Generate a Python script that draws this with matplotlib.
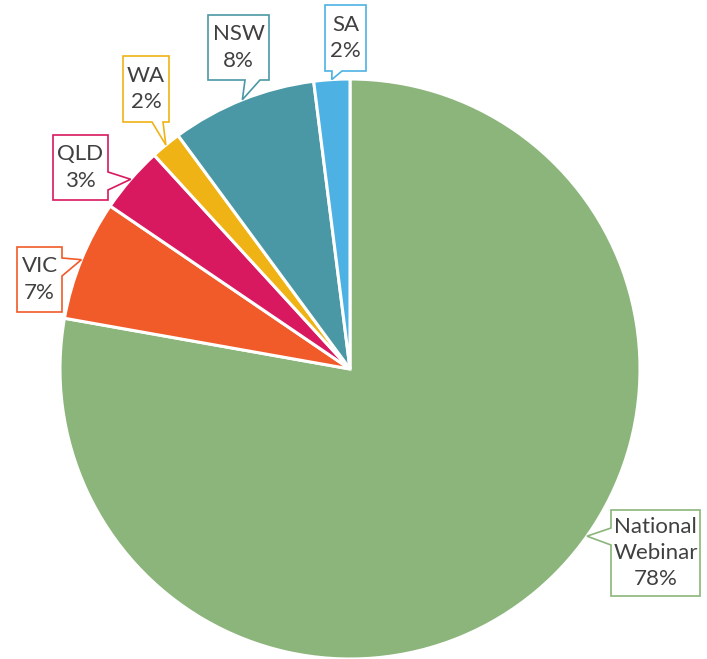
import numpy as np
import matplotlib.pyplot as plt
from matplotlib.patches import Polygon

# === データ ===
regions = ["National\nWebinar", "VIC", "QLD", "WA", "NSW", "SA"]
shares = [77.8, 6.7, 3.7, 1.7, 8.1, 2.0]      # 円グラフから読み取った割合
pct_labels = ["78%", "7%", "3%", "2%", "8%", "2%"]
colors = ["#8BB57A", "#F15A29", "#D8195F", "#F0B315", "#4A98A5", "#4EB1E3"]

# === レイアウト（ピクセル座標, 上が0） ===
W, H = 707, 659
cx, cy, R = 350, 369, 290
# callout: (left, top, right, bottom), 吹き出しの辺, 付け根の範囲
callouts = [
    ((611, 510, 700, 596), "left", (528, 545)),
    ((17, 247, 62, 312), "right", (258, 276)),
    ((53, 135, 108, 200), "right", (172, 190)),
    ((123, 56, 169, 122), "bottom", (152, 163)),
    ((208, 15, 269, 80), "bottom", (245, 260)),
    ((325, 5, 366, 71), "bottom", (332, 342)),
]
tip_angle_override = {0: 324.8}  # National Webinar のラベル位置

fig = plt.figure(figsize=(W / 100, H / 100), dpi=100)
ax = fig.add_axes([0, 0, 1, 1])
ax.set_xlim(0, W)
ax.set_ylim(0, H)
ax.set_aspect("equal")
ax.axis("off")

wedges, _ = ax.pie(shares, colors=colors, startangle=90, counterclock=False,
                   center=(cx, H - cy), radius=R,
                   wedgeprops=dict(edgecolor="white", linewidth=2.2))
ax.set_xlim(0, W)
ax.set_ylim(0, H)


def fy(y):
    return H - y


for i, (box, side, base) in enumerate(callouts):
    w = wedges[i]
    ang = tip_angle_override.get(i, (w.theta1 + w.theta2) / 2)
    tx = cx + R * np.cos(np.radians(ang))
    ty = cy - R * np.sin(np.radians(ang))
    l, t, r, b = box
    if side == "bottom":
        pts = [(l, t), (r, t), (r, b), (base[1], b), (tx, ty), (base[0], b), (l, b)]
    elif side == "right":
        pts = [(l, t), (r, t), (r, base[0]), (tx, ty), (r, base[1]), (r, b), (l, b)]
    else:
        pts = [(l, t), (r, t), (r, b), (l, b), (l, base[1]), (tx, ty), (l, base[0])]
    poly = Polygon([(x, fy(y)) for x, y in pts], closed=True, facecolor="white",
                   edgecolor=colors[i], linewidth=1.2, zorder=5)
    ax.add_patch(poly)
    ax.text((l + r) / 2, fy((t + b) / 2), regions[i] + "\n" + pct_labels[i],
            ha="center", va="center", fontsize=16, family="Lato",
            color="#404040", linespacing=1.38, zorder=6)

fig.savefig("out.png", dpi=100)
